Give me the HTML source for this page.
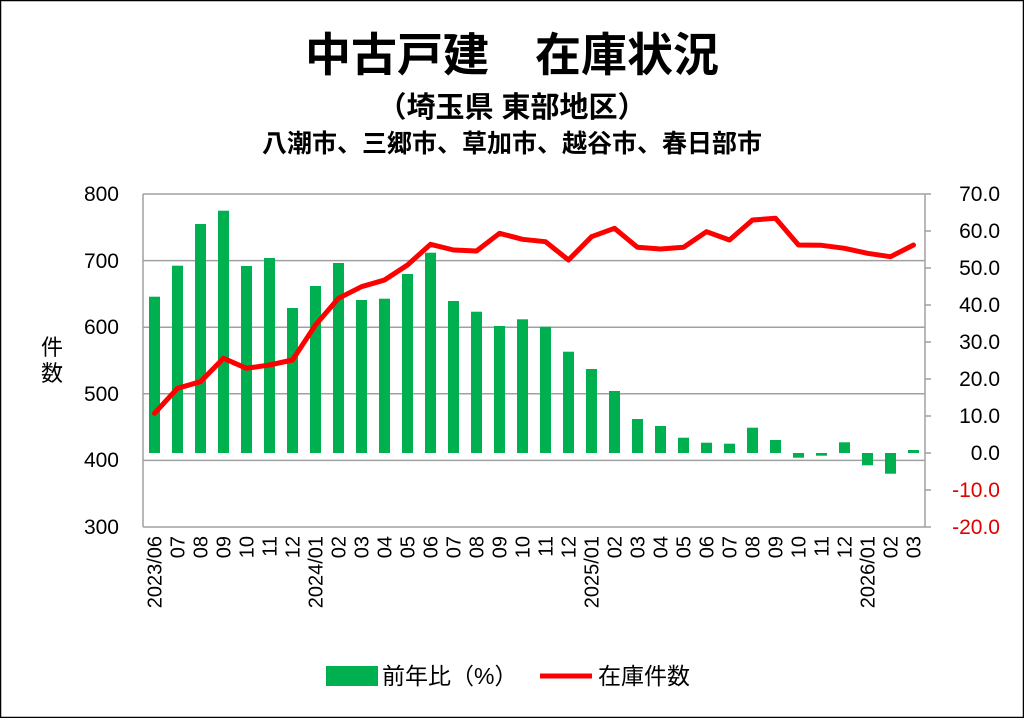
<!DOCTYPE html>
<html><head><meta charset="utf-8"><style>
body{margin:0;background:#fff}
svg{display:block;font-family:"Liberation Sans","Noto Sans CJK JP",sans-serif}
</style></head><body>
<svg width="1024" height="718" viewBox="0 0 1024 718" xmlns="http://www.w3.org/2000/svg">
<rect x="0.5" y="0.5" width="1023" height="717" fill="#fff" stroke="#000" stroke-width="1.5"/>
<text x="512" y="71" text-anchor="middle" font-size="46" font-weight="bold">中古戸建　在庫状況</text>
<text x="512" y="117" text-anchor="middle" font-size="29" font-weight="bold">（埼玉県 東部地区）</text>
<text x="512" y="152" text-anchor="middle" font-size="25" font-weight="bold">八潮市、三郷市、草加市、越谷市、春日部市</text>
<g stroke="#a0a0a0" stroke-width="1.5">
<line x1="143" y1="194" x2="925" y2="194"/><line x1="143" y1="260.6" x2="925" y2="260.6"/>
<line x1="143" y1="327.2" x2="925" y2="327.2"/><line x1="143" y1="393.8" x2="925" y2="393.8"/>
<line x1="143" y1="460.4" x2="925" y2="460.4"/><line x1="143" y1="527" x2="925" y2="527"/>
<line x1="143" y1="194" x2="143" y2="527"/><line x1="925" y1="194" x2="925" y2="527"/>
<line x1="925" y1="231" x2="931" y2="231"/><line x1="925" y1="268" x2="931" y2="268"/><line x1="925" y1="305" x2="931" y2="305"/><line x1="925" y1="342" x2="931" y2="342"/><line x1="925" y1="379" x2="931" y2="379"/><line x1="925" y1="416" x2="931" y2="416"/><line x1="925" y1="453" x2="931" y2="453"/><line x1="925" y1="490" x2="931" y2="490"/><line x1="925" y1="194" x2="931" y2="194"/><line x1="925" y1="527" x2="931" y2="527"/>
</g>
<g fill="#00b050" id="bars"></g>
<polyline id="ln" fill="none" stroke="#ff0000" stroke-width="5" stroke-linejoin="round" stroke-linecap="round"/>
<g font-size="21" text-anchor="end">
<text x="119" y="201">800</text><text x="119" y="268">700</text><text x="119" y="334">600</text>
<text x="119" y="401">500</text><text x="119" y="467">400</text><text x="119" y="534">300</text>
</g>
<g font-size="21" text-anchor="end">
<text x="1000" y="201">70.0</text><text x="1000" y="238">60.0</text><text x="1000" y="275">50.0</text>
<text x="1000" y="312">40.0</text><text x="1000" y="349">30.0</text><text x="1000" y="386">20.0</text>
<text x="1000" y="423">10.0</text><text x="1000" y="460">0.0</text>
<text x="1000" y="497" fill="#e00000">-10.0</text><text x="1000" y="534" fill="#e00000">-20.0</text>
</g>
<text x="52" y="355" font-size="22" text-anchor="middle">件</text>
<text x="52" y="381" font-size="22" text-anchor="middle">数</text>
<g id="xl" font-size="20" text-anchor="end"></g>
<rect x="326" y="666" width="52" height="20" fill="#00b050"/>
<text x="382" y="684" font-size="23">前年比（%）</text>
<line x1="540" y1="676" x2="592" y2="676" stroke="#ff0000" stroke-width="5"/>
<text x="598" y="684" font-size="23">在庫件数</text>
</svg>
<script>
var tops=[296.7,265.7,224,210.7,266,258,308,286,263,300,298.7,274,252.7,301,311.7,326,319.3,326.7,351.7,369,391,419,426,437.7,442.7,443.7,427.7,440,457.7,455.7,442.3,465.3,473.7,450];
var ly=[413.3,388.3,381.7,358.3,368.3,365,360,325,298.3,286.7,280,265,244.3,250,251,233.3,239.3,241.7,260,236.7,228.3,247.3,249,247.3,231.7,240,220,218.3,245,245.3,248.3,253.3,256.7,245];
var labs=["2023/06","07","08","09","10","11","12","2024/01","02","03","04","05","06","07","08","09","10","11","12","2025/01","02","03","04","05","06","07","08","09","10","11","12","2026/01","02","03"];
var ns="http://www.w3.org/2000/svg",g=document.getElementById("bars"),xl=document.getElementById("xl"),pts=[];
for(var i=0;i<34;i++){var cx=154.5+23*i,t=tops[i],b=453,y=Math.min(t,b),h=Math.abs(t-b);
var r=document.createElementNS(ns,"rect");r.setAttribute("x",cx-5.5);r.setAttribute("y",y);r.setAttribute("width",11);r.setAttribute("height",h);g.appendChild(r);
pts.push(cx+","+ly[i]);
var tx=document.createElementNS(ns,"text");tx.setAttribute("transform","translate("+(cx+7)+",536) rotate(-90)");tx.textContent=labs[i];xl.appendChild(tx);}
document.getElementById("ln").setAttribute("points",pts.join(" "));
</script>
</body></html>
